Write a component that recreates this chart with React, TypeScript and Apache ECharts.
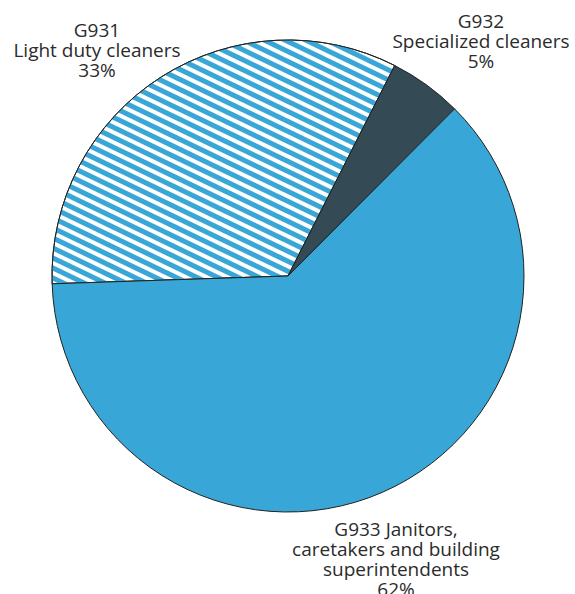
import React, { useEffect, useRef } from "react";
import * as echarts from "echarts";

const categories = ["G931", "G932", "G933"];
const labelTexts = [
  "G931\nLight duty cleaners\n33%",
  "G932\nSpecialized cleaners\n5%",
  "G933 Janitors,\ncaretakers and building\nsuperintendents\n62%",
];
const values = [33, 5, 62];
const labelPos = [
  [97, 20],
  [481, 11],
  [396, 519],
];

const BLUE = "#38a6d6";
const DARK = "#344b55";

export default function App() {
  const ref = useRef<HTMLDivElement>(null);
  useEffect(() => {
    if (!ref.current) return;
    const chart = echarts.init(ref.current, null, { renderer: "svg" });
    const data = categories.map((c, i) => {
      const base: any = { name: c, value: values[i] };
      if (i === 0) {
        base.itemStyle = {
          color: "#ffffff",
          decal: {
            symbol: "rect",
            color: BLUE,
            dashArrayX: [1, 0],
            dashArrayY: [5, 4],
            rotation: Math.PI / 7,
          },
        };
      } else if (i === 1) {
        base.itemStyle = { color: DARK };
      } else {
        base.itemStyle = { color: BLUE };
      }
      return base;
    });
    chart.setOption({
      animation: false,
      series: [
        {
          type: "pie",
          center: [288, 276],
          radius: 236,
          startAngle: 181.9,
          clockwise: true,
          data,
          itemStyle: { borderColor: "#222", borderWidth: 1 },
          emphasis: { disabled: true },
          label: {
            show: true,
            position: "outside",
            formatter: (p: any) => labelTexts[p.dataIndex],
            fontFamily: "'Open Sans', sans-serif",
            fontSize: 19,
            lineHeight: 20,
            color: "#2b2b2b",
            align: "center",
            overflow: "none",
            width: 300,
          },
          labelLine: { show: false },
          labelLayout: (p: any) => ({
            x: labelPos[p.dataIndex][0],
            y: labelPos[p.dataIndex][1],
            align: "center",
            verticalAlign: "top",
          }),
        },
      ],
    });
    return () => chart.dispose();
  }, []);
  return (
    <div
      ref={ref}
      style={{ position: "absolute", left: 0, top: 0, width: 575, height: 594, background: "#fff" }}
    />
  );
}
